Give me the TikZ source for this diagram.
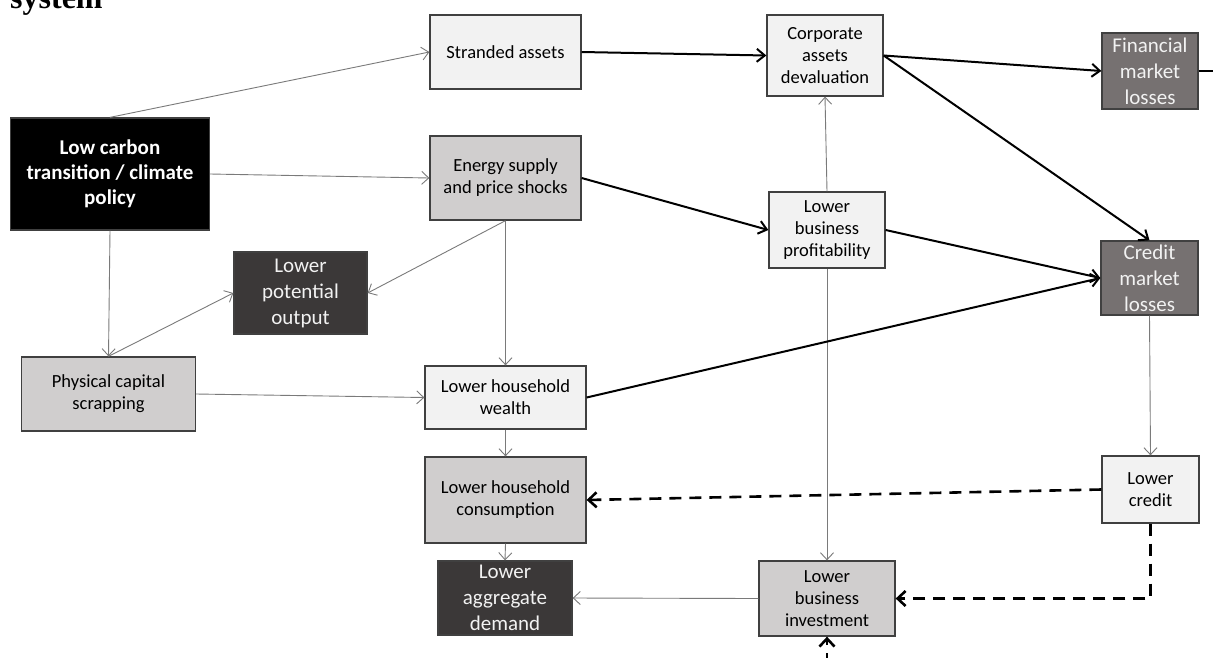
\documentclass[tikz,border=0pt]{standalone}
\usepackage{fontspec}
\setmainfont{Carlito}
\newfontfamily\titlefont{Liberation Serif}
\usetikzlibrary{arrows.meta,calc}

\definecolor{boxlight}{HTML}{F2F2F2}
\definecolor{boxgray}{HTML}{D0CECE}
\definecolor{boxmid}{HTML}{767171}
\definecolor{boxdark}{HTML}{3B3838}
\definecolor{linkgray}{HTML}{7A7A7A}

\begin{document}
\begin{tikzpicture}[x=1pt,y=-1pt,
    box/.style={draw=black!75, line width=1.3pt, inner sep=0pt, align=center,
        font=\fontsize{18.5}{22}\selectfont},
    light/.style={box, fill=boxlight},
    grey/.style={box, fill=boxgray},
    mid/.style={box, fill=boxmid, text=boxlight, font=\fontsize{21}{26}\selectfont},
    dark/.style={box, fill=boxdark, text=boxlight, font=\fontsize{21}{26}\selectfont},
    weak/.style={draw=linkgray, line width=0.9pt, -{Straight Barb[length=7pt,width=13pt]}},
    strong/.style={draw=black, line width=2pt, -{Straight Barb[length=8pt,width=13pt]}},
    feedback/.style={draw=black, line width=2.6pt, dash pattern=on 12pt off 8pt,
        -{Straight Barb[length=8pt,width=15pt]}}]
    \clip (0,0) rectangle (1213,657);
    \fill[white] (0,0) rectangle (1213,657);
    \node[anchor=base west, font=\titlefont\bfseries\fontsize{32}{36}\selectfont, inner sep=0pt] (title) at (10,8) {system};

    \node[box, fill=black, text=white, font=\bfseries\fontsize{21}{25}\selectfont,
        minimum width=199pt, minimum height=112pt] (low) at (110,174) {Low carbon\\transition / climate\\policy};
    \node[light, minimum width=151pt, minimum height=74pt] (stranded) at (505.5,52) {Stranded assets};
    \node[grey, minimum width=151pt, minimum height=84pt] (energy) at (505.5,178) {Energy supply\\and price shocks};
    \node[light, minimum width=116pt, minimum height=81pt] (corp) at (825,55.5) {Corporate\\assets\\devaluation};
    \node[mid, minimum width=96pt, minimum height=76pt] (fin) at (1150,71) {Financial\\market\\losses};
    \node[light, minimum width=116pt, minimum height=76pt] (profit) at (827,230) {Lower\\business\\profitability};
    \node[mid, minimum width=97pt, minimum height=74pt] (credit) at (1149.5,278) {Credit\\market\\losses};
    \node[dark, minimum width=133pt, minimum height=82pt] (potential) at (300.5,293) {Lower\\potential\\output};
    \node[grey, minimum width=174pt, minimum height=74pt] (physical) at (108.5,394) {Physical capital\\scrapping};
    \node[light, minimum width=161pt, minimum height=63pt] (wealth) at (505.5,397.5) {Lower household\\wealth};
    \node[grey, minimum width=161pt, minimum height=86pt] (consum) at (505.5,500) {Lower household\\consumption};
    \node[dark, minimum width=134pt, minimum height=74pt] (aggdem) at (505,598) {Lower\\aggregate\\demand};
    \node[grey, minimum width=136pt, minimum height=75pt] (invest) at (827,598.5) {Lower\\business\\investment};
    \node[light, minimum width=97pt, minimum height=67pt] (lowcredit) at (1150.5,489.5) {Lower\\credit};

    \coordinate (finout) at (1220,71);
    \coordinate (investin) at (827,665);

    \draw[weak] (low.north) -- (stranded.west);
    \draw[weak] (low.east) -- (energy.west);
    \draw[weak] (low.south) -- (physical.north);
    \draw[weak] (physical.north) -- (potential.west);
    \draw[weak] (energy.south) -- (potential.east);
    \draw[weak] (energy.south) -- (wealth.north);
    \draw[weak] (physical.east) -- (wealth.west);
    \draw[weak] (wealth.south) -- (consum.north);
    \draw[weak] (consum.south) -- (aggdem.north);
    \draw[weak] (invest.west) -- (aggdem.east);
    \draw[weak] (profit.north) -- (corp.south);
    \draw[weak] (profit.south) -- (invest.north);
    \draw[weak] (credit.south) -- (lowcredit.north);

    \draw[strong] (stranded.east) -- (corp.west);
    \draw[strong] (energy.east) -- (profit.west);
    \draw[strong] (corp.east) -- (fin.west);
    \draw[strong] (corp.east) -- (credit.north);
    \draw[strong] (profit.east) -- (credit.west);
    \draw[strong] (wealth.east) -- (credit.west);
    \draw[draw=black, line width=2pt] (fin.east) -- (finout);

    \draw[feedback] (lowcredit.west) -- (consum.east);
    \draw[feedback] (lowcredit.south) |- (invest.east);
    \draw[feedback] (investin) -- (invest.south);
\end{tikzpicture}
\end{document}
